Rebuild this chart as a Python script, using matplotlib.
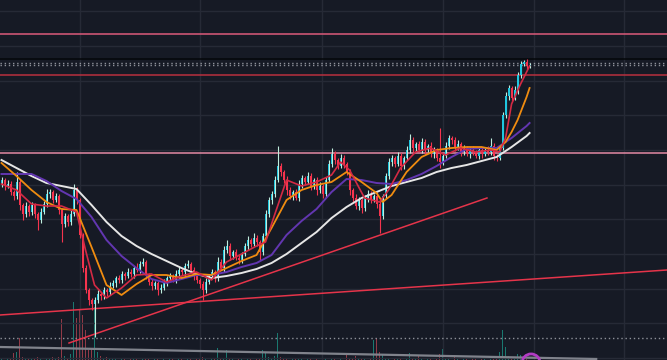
import matplotlib
matplotlib.use("Agg")
import matplotlib.pyplot as plt
import numpy as np

# candle closes (price units, bar index = position in list)
close = [180, 174, 176, 168, 164, 178, 155, 146, 154, 148,
         155, 146, 140, 148, 156, 166, 168, 160, 164, 150,
         136, 144, 138, 146, 170, 160, 125, 92, 70, 60,
         56, 60, 66, 64, 70, 68, 74, 77, 82, 80,
         86, 84, 88, 86, 92, 90, 96, 98, 85, 78,
         74, 77, 70, 72, 78, 82, 84, 80, 86, 90,
         88, 94, 96, 90, 84, 80, 76, 70, 78, 84,
         88, 82, 98, 92, 110, 114, 104, 108, 102, 100,
         106, 114, 120, 116, 122, 118, 108, 124, 146, 160,
         166, 180, 194, 188, 180, 170, 164, 168, 162, 176,
         182, 178, 184, 174, 180, 170, 174, 166, 180, 196,
         206, 200, 194, 202, 196, 188, 170, 162, 154, 160,
         152, 162, 166, 160, 164, 156, 144, 164, 184, 198,
         202, 196, 204, 194, 202, 210, 220, 212, 216, 210,
         218, 210, 214, 206, 210, 202, 198, 204, 214, 222,
         220, 212, 216, 208, 212, 206, 210, 208, 204, 210,
         206, 210, 208, 214, 204, 202, 212, 245, 264, 272,
         262, 270, 285, 296, 298, 294, 295]
first_open = 176

wick_up = [3, 2, 4, 3, 2, 10, 3, 2, 4, 2,
           3, 2, 2, 4, 3, 5, 3, 2, 3, 2,
           2, 3, 2, 4, 6, 3, 2, 2, 3, 2,
           2, 3, 4, 2, 3, 2, 4, 3, 2, 3,
           3, 2, 4, 3, 2, 5, 3, 4, 2, 2,
           3, 2, 2, 4, 3, 2, 3, 2, 4, 3,
           2, 3, 4, 2, 3, 2, 2, 3, 4, 2,
           3, 2, 5, 3, 4, 6, 3, 2, 3, 4,
           2, 3, 4, 2, 5, 3, 2, 3, 4, 3,
           3, 4, 20, 3, 2, 4, 3, 2, 3, 4,
           3, 2, 4, 3, 2, 3, 4, 2, 3, 4,
           6, 3, 2, 4, 3, 2, 3, 2, 4, 3,
           2, 3, 4, 3, 2, 4, 3, 2, 3, 4,
           3, 2, 4, 3, 2, 4, 6, 3, 2, 3,
           4, 3, 2, 4, 3, 2, 30, 3, 4, 3,
           2, 3, 4, 2, 3, 2, 3, 4, 2, 3,
           3, 2, 4, 8, 3, 2, 3, 3, 4, 3,
           2, 4, 3, 3, 2, 3, 2]

wick_dn = [3, 4, 2, 3, 4, 3, 5, 6, 3, 4,
           3, 4, 10, 3, 2, 3, 4, 3, 2, 4,
           18, 3, 4, 3, 2, 4, 3, 4, 3, 5,
           6, 33, 3, 4, 3, 4, 3, 2, 4, 3,
           3, 4, 2, 3, 4, 2, 3, 2, 4, 3,
           4, 3, 5, 3, 2, 4, 3, 2, 3, 4,
           3, 4, 2, 3, 4, 3, 4, 10, 3, 2,
           3, 4, 3, 2, 4, 3, 4, 3, 2, 4,
           3, 2, 4, 3, 2, 4, 8, 3, 2, 3,
           4, 3, 2, 4, 3, 5, 3, 4, 2, 3,
           4, 3, 2, 4, 3, 5, 3, 4, 3, 2,
           3, 4, 3, 2, 4, 3, 5, 4, 3, 4,
           5, 3, 4, 3, 2, 4, 17, 3, 2, 3,
           4, 3, 2, 4, 3, 2, 3, 4, 3, 2,
           3, 4, 2, 3, 4, 3, 6, 3, 2, 3,
           4, 3, 2, 4, 3, 2, 4, 3, 2, 3,
           4, 2, 3, 3, 4, 3, 2, 2, 3, 4,
           3, 2, 4, 3, 2, 3, 2]

volume = [1, 0, 2, 1, 7, 8, 22, 3, 1, 2,
          1, 2, 3, 1, 0, 2, 1, 3, 1, 3,
          41, 4, 2, 6, 58, 42, 50, 45, 30, 10,
          12, 53, 8, 4, 2, 3, 1, 2, 1, 0,
          1, 2, 0, 1, 2, 1, 0, 2, 1, 1,
          0, 1, 2, 0, 1, 0, 1, 2, 0, 1,
          1, 0, 2, 1, 0, 1, 2, 3, 1, 0,
          1, 2, 12, 2, 1, 10, 2, 1, 0, 1,
          1, 0, 2, 1, 0, 1, 2, 10, 8, 3,
          2, 4, 27, 3, 1, 2, 0, 1, 2, 1,
          1, 0, 1, 2, 0, 1, 0, 2, 1, 0,
          1, 2, 0, 1, 0, 7, 2, 1, 4, 1,
          2, 1, 0, 2, 20, 22, 8, 5, 2, 1,
          0, 1, 2, 1, 0, 1, 7, 2, 1, 4,
          1, 0, 2, 1, 0, 2, 6, 11, 2, 1,
          0, 5, 1, 0, 2, 1, 0, 1, 2, 0,
          1, 2, 0, 1, 2, 3, 8, 30, 13, 4,
          2, 1, 6, 5, 2, 1, 0]

# moving averages (bar index, value)
ma_fast_x = [0, 5, 10, 15, 20, 25, 28, 31, 35, 40, 45, 50, 55, 60, 65, 70, 75, 80, 85, 88, 91,
             95, 100, 105, 110, 113, 116, 121, 126, 129, 133, 138, 143, 148, 153, 158, 163, 166,
             168, 170, 173, 176]
ma_fast = [176, 170, 156, 154, 154, 148, 110, 75, 62, 72, 85, 86, 78, 84, 88, 80, 98, 106, 114, 118, 145,
           180, 174, 178, 185, 198, 190, 162, 158, 170, 192, 208, 212, 205, 212, 208, 210, 208,
           222, 256, 276, 294]

ma_orange_x = list(range(0, 126, 5)) + [127] + list(range(130, 166, 5)) + [168, 170, 172, 175, 176]
ma_orange = [197, 184, 170, 158, 151, 150, 113, 75, 65, 76, 85, 85, 82, 86, 85, 92, 99, 105, 132, 160,
             170, 175, 178, 188, 178, 167, 158, 165, 188, 203, 210, 212, 213, 213, 210, 218, 228, 240,
             263, 272]

ma_slow_x = list(range(0, 176, 5)) + [176]
ma_purple = [186, 186, 186, 179, 169, 161, 143, 120, 104, 92, 81, 77, 81, 85, 85, 88, 93, 97, 105, 125,
             139, 151, 168, 181, 180, 177, 176, 180, 186, 194, 203, 211, 212, 212, 222, 234, 237]
ma_white = [200, 192, 184, 177, 174, 171, 155, 138, 124, 114, 106, 99, 92, 86, 82, 84, 87, 91, 97, 106,
            117, 128, 142, 153, 162, 168, 174, 178, 182, 188, 192, 195, 199, 203, 213, 224, 227]

# drawn levels and trend lines
levels_solid = {325.7: "#dc5a7a", 300.7: "#05070a", 284.7: "#b8303f", 206.7: "#e48aa4"}
levels_dotted = [297.3, 295.0, 21.7]
trend_red = [((-0.5, 45), (221.8, 90)), ((22.5, 17), (161.8, 162))]
trend_grey = ((-0.5, 13), (198.2, 1))
marker_bar, marker_val = 176.5, -3

grid_x = [26.2, 66.2, 106.8, 147.2, 177.5, 207.5]
grid_y = [348.7, 314, 279.3, 244.6, 210, 175.3, 140.6, 106, 71.3, 36.6, 2]

###############
# Build OHLC  #
###############
close = np.array(close, dtype=float)
bars = np.arange(len(close))
open_ = np.r_[first_open, close[:-1]]
high = np.maximum(open_, close) + np.array(wick_up)
low = np.minimum(open_, close) - np.array(wick_dn)
rising = close >= open_

bg = "#161a25"
up_col, dn_col = "#1fc6df", "#f5344e"

fig = plt.figure(figsize=(6.67, 3.6), dpi=100)
fig.patch.set_facecolor(bg)
ax = fig.add_axes([0, 0, 1, 1])

# volume pane behind everything
axv = ax.twinx()
axv.set_ylim(0, 360)
axv.bar(bars, volume, width=0.45, color=np.where(rising, "#1b8a7e", "#a8404e"), alpha=0.85, zorder=1)
axv.axis("off")
axv.set_zorder(0)
ax.set_zorder(1)
ax.patch.set_visible(False)

##############
# Price pane #
##############
for lvl, col in levels_solid.items():
    ax.axhline(lvl, color=col, lw=1.1, zorder=2)
for lvl in levels_dotted:
    ax.axhline(lvl, color="#8e919a", lw=1.0, ls=(0, (1, 2)), zorder=2)

for (x0, y0), (x1, y1) in trend_red:
    ax.plot([x0, x1], [y0, y1], color="#e5344a", lw=1.1, zorder=2)
ax.plot([trend_grey[0][0], trend_grey[1][0]], [trend_grey[0][1], trend_grey[1][1]],
        color="#80838c", lw=1.6, zorder=2)

# candles
wick_cols = np.where(rising, "#bfeede", dn_col)
ax.vlines(bars, low, high, colors=wick_cols, lw=0.8, zorder=3)
body = np.maximum(np.abs(close - open_), 1.0)
ax.bar(bars, body, bottom=np.minimum(open_, close), width=0.62,
       color=np.where(rising, up_col, dn_col), linewidth=0, zorder=3)

# moving averages
ax.plot(ma_slow_x, ma_white, color="#e6e6e6", lw=1.4, zorder=4)
ax.plot(ma_slow_x, ma_purple, color="#6236b0", lw=1.4, zorder=4)
ax.plot(ma_orange_x, ma_orange, color="#f08c10", lw=1.3, zorder=4)
ax.plot(ma_fast_x, ma_fast, color="#d42a44", lw=1.2, zorder=4)

ax.scatter([marker_bar], [marker_val], s=170, facecolors="none", edgecolors="#b23cc4",
           linewidths=2, zorder=5, clip_on=True)

ax.set_xlim(-0.5, 221.8)
ax.set_ylim(0, 360)
ax.set_xticks(grid_x)
ax.set_yticks(grid_y)
ax.grid(True, color="#262a36", lw=1.0, zorder=0)
ax.tick_params(length=0, labelleft=False, labelbottom=False)
for s in ax.spines.values():
    s.set_visible(False)

fig.savefig("out.png", dpi=100, facecolor=bg)
